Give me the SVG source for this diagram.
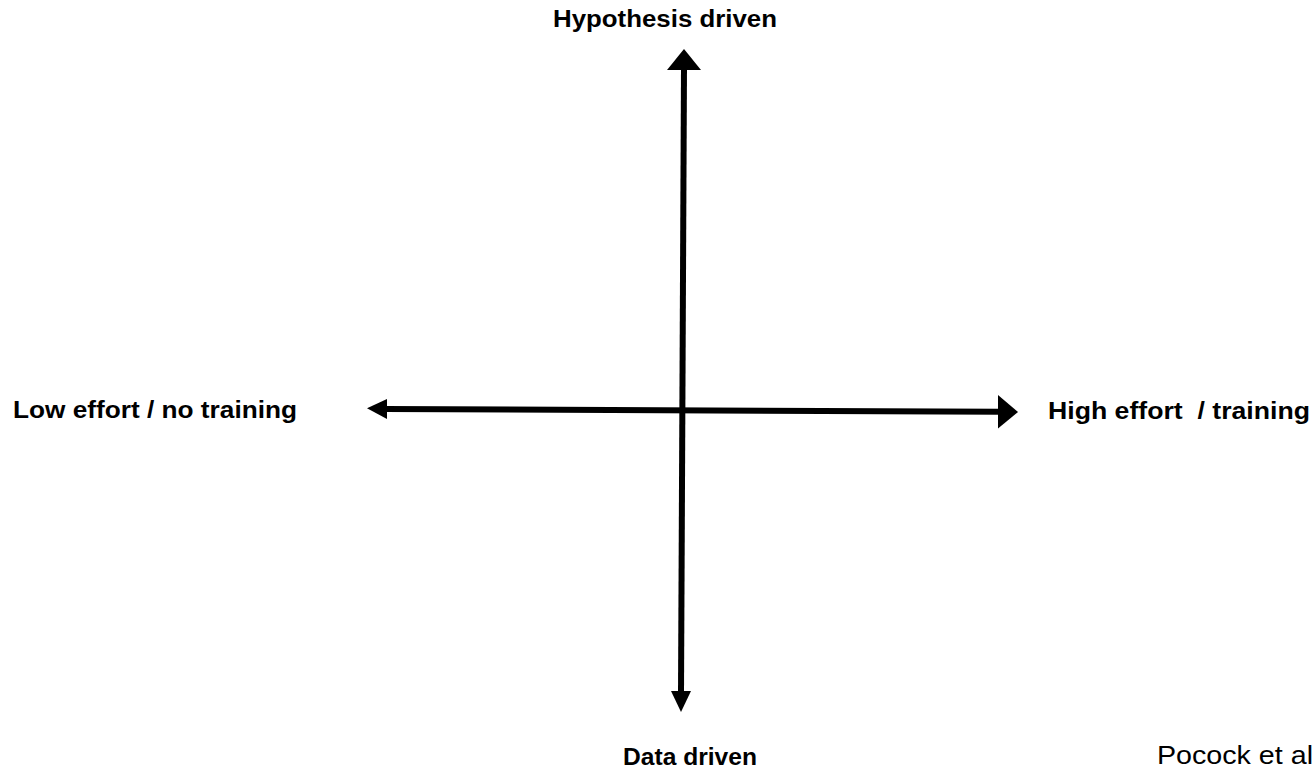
<svg xmlns="http://www.w3.org/2000/svg" width="1316" height="772" viewBox="0 0 1316 772">
<style>
.lbl{font-family:"Liberation Sans",Arial,sans-serif;font-weight:bold;font-size:23px;fill:#000;white-space:pre}
.cite{font-family:"Liberation Sans",Arial,sans-serif;font-size:26px;fill:#000}
.shaft{stroke:#000;stroke-width:6;fill:none}
.head{fill:#000}
</style>
<rect width="1316" height="772" fill="#fff"/>
<g id="connectors">
<line class="shaft" x1="684" y1="68" x2="681" y2="693"/>
<polygon class="head" points="684,49 667,70 701,70"/>
<polygon class="head" points="681,712 671,691 691,691"/>
<line class="shaft" x1="385" y1="409" x2="1000" y2="411.7"/>
<polygon class="head" points="367,408.3 387,399 387,419"/>
<polygon class="head" points="1018,412 998,395 998,428.5"/>
</g>
<g id="top"><text class="lbl" x="553" y="27" textLength="224" lengthAdjust="spacingAndGlyphs">Hypothesis driven</text></g>
<g id="left"><text class="lbl" x="13" y="418" textLength="284" lengthAdjust="spacingAndGlyphs">Low effort / no training</text></g>
<g id="right"><text class="lbl" x="1048" y="419" textLength="262" lengthAdjust="spacingAndGlyphs">High effort  / training</text></g>
<g id="bottom"><text class="lbl" x="623" y="765" textLength="134" lengthAdjust="spacingAndGlyphs">Data driven</text></g>
<g id="citation"><text class="cite" x="1157" y="764" textLength="156" lengthAdjust="spacingAndGlyphs">Pocock et al</text></g>
</svg>
